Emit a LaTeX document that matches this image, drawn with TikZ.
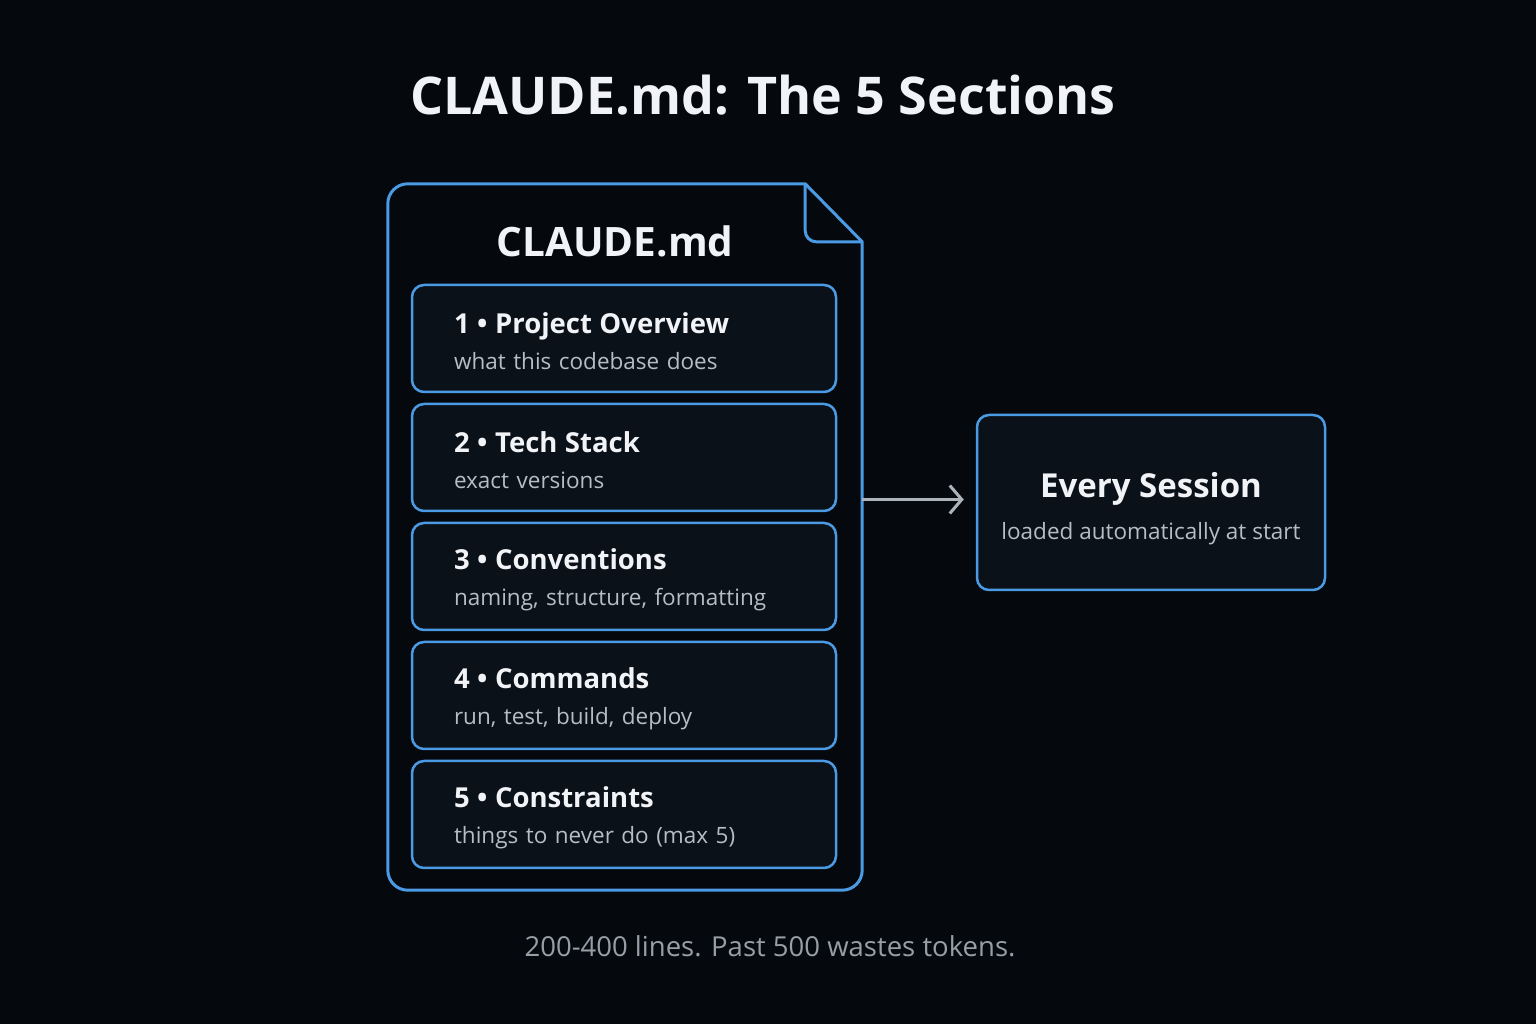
\documentclass[tikz,border=0pt]{standalone}
\usepackage{fontspec}
\setmainfont{Open Sans}
\usepackage{tikz}
\usetikzlibrary{arrows.meta,positioning,calc}
\definecolor{bgdark}{HTML}{05080D}
\definecolor{boxfill}{HTML}{0B1119}
\definecolor{docblue}{HTML}{4A9BE3}
\definecolor{titlewhite}{HTML}{F1F3F6}
\definecolor{subgrey}{HTML}{B7BDC6}
\definecolor{notegrey}{HTML}{989EA6}
\definecolor{arrgrey}{HTML}{AEB3BA}
\newcommand{\sectitlefont}{\color{titlewhite}\fontsize{27.5}{36}\selectfont\bfseries}

\begin{document}
\begin{tikzpicture}[
  x=1pt,y=1pt,
  node distance=9.5pt and 12pt,
  docline/.style={draw=docblue,line width=3pt,line join=round},
  secbox/.style={draw=docblue,fill=boxfill,line width=2.5pt,rounded corners=12pt,
                 minimum width=424pt,minimum height=107pt,text width=340pt,
                 inner xsep=42pt,align=left,text=subgrey,
                 font=\fontsize{22.5}{36}\selectfont},
  sesbox/.style={draw=docblue,fill=boxfill,line width=2.5pt,rounded corners=12pt,
                 minimum width=348pt,minimum height=175pt,align=center,text=subgrey,
                 font=\fontsize{22.5}{42}\selectfont},
  arr/.style={-{Straight Barb[length=12pt,width=28pt]},line width=3pt,arrgrey}
]
% background and page size
\fill[bgdark] (0,0) rectangle (1536,1024);
\useasboundingbox (0,0) rectangle (1536,1024);

% Title
\node[text=titlewhite,font=\fontsize{52}{62}\selectfont\bfseries] (title) at (763,929)
  {CLAUDE.md: The 5 Sections};

% Document outline with folded corner
\node[minimum width=474pt,minimum height=706pt,inner sep=0pt] (doc) at (625,487) {};
\draw[docline] ([xshift=-57pt]doc.north east) -- ([xshift=20pt]doc.north west)
  arc[start angle=90,end angle=180,radius=20pt] -- ([yshift=20pt]doc.south west)
  arc[start angle=180,end angle=270,radius=20pt] -- ([xshift=-20pt]doc.south east)
  arc[start angle=270,end angle=360,radius=20pt] -- ([yshift=-58pt]doc.north east) -- cycle;
\draw[docline] ([xshift=-57pt]doc.north east) -- ++(0,-47)
  arc[start angle=180,end angle=270,radius=11pt] -- ([yshift=-58pt]doc.north east);
\node[text=titlewhite,font=\fontsize{40.5}{50}\selectfont\bfseries] (head) at (615,783) {CLAUDE.md};

% Five sections
\node[secbox] (s1) at (624,685.5)
  {{\sectitlefont\rule{0pt}{27pt}1 • Project Overview}\\what this codebase does};
\node[secbox,below=of s1] (s2)
  {{\sectitlefont\rule{0pt}{27pt}2 • Tech Stack}\\exact versions};
\node[secbox,below=of s2] (s3)
  {{\sectitlefont\rule{0pt}{27pt}3 • Conventions}\\naming, structure, formatting};
\node[secbox,below=of s3] (s4)
  {{\sectitlefont\rule{0pt}{27pt}4 • Commands}\\run, test, build, deploy};
\node[secbox,below=of s4] (s5)
  {{\sectitlefont\rule{0pt}{27pt}5 • Constraints}\\things to never do (max 5)};

% Session box
\node[sesbox] (session) at (1151,521.5)
  {{\color{titlewhite}\fontsize{33}{40}\selectfont\bfseries\rule{0pt}{37pt}Every Session}\\loaded automatically at start};

\draw[arr] ([yshift=3pt]doc.east |- session.west) -- ([xshift=-12pt,yshift=3pt]session.west);

% Footer note
\node[text=notegrey,font=\fontsize{27.5}{32}\selectfont] (note) at (770,78)
  {200-400 lines. Past 500 wastes tokens.};
\end{tikzpicture}
\end{document}
